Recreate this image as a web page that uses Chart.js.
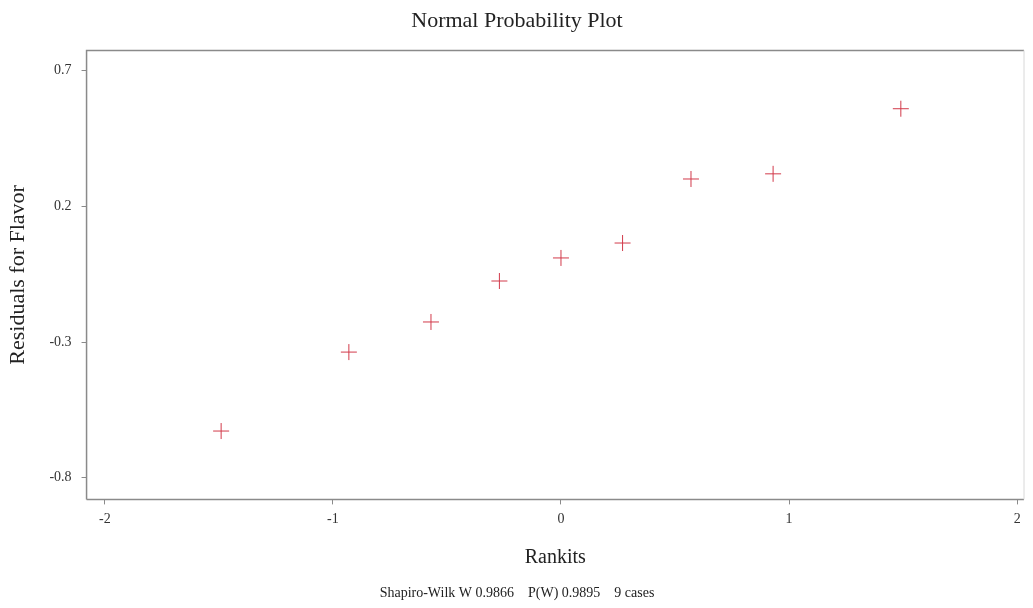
<!DOCTYPE html>
<html><head><meta charset="utf-8">
<script src="https://cdn.jsdelivr.net/npm/chart.js@4/dist/chart.umd.min.js"></script>
<style>html,body{margin:0;padding:0;background:#fff}#wrap{width:1033px;height:608px}</style>
</head><body><div id="wrap"><canvas id="c" width="1033" height="608"></canvas></div>
<script>
const rankits = [-1.49, -0.93, -0.57, -0.27, 0, 0.27, 0.57, 0.93, 1.49];
const residuals = [-0.628, -0.337, -0.226, -0.075, 0.010, 0.065, 0.301, 0.320, 0.560];
const xTicks = [-2, -1, 0, 1, 2];
const yTicks = [-0.8, -0.3, 0.2, 0.7];
const titleText = 'Normal Probability Plot';
const xTitle = 'Rankits';
const yTitle = 'Residuals for Flavor';
const footText = 'Shapiro-Wilk W 0.9866    P(W) 0.9895    9 cases';

const frame = {
  id: 'frame',
  afterDraw(chart) {
    const a = chart.chartArea, ctx = chart.ctx;
    ctx.save();
    ctx.strokeStyle = '#8a8a8a';
    ctx.lineWidth = 1.5;
    ctx.beginPath();
    ctx.moveTo(a.left, a.bottom); ctx.lineTo(a.left, a.top); ctx.lineTo(a.right, a.top);
    ctx.moveTo(a.left, a.bottom); ctx.lineTo(a.right, a.bottom);
    ctx.stroke();
    ctx.strokeStyle = '#d8d8d8';
    ctx.lineWidth = 1;
    ctx.beginPath();
    ctx.moveTo(a.right, a.top); ctx.lineTo(a.right, a.bottom);
    ctx.stroke();
    ctx.restore();
  }
};

const serif = 'Liberation Serif';
new Chart(document.getElementById('c'), {
  type: 'scatter',
  data: { datasets: [{
    data: rankits.map((x, i) => ({ x, y: residuals[i] })),
    pointStyle: 'cross', pointRadius: 8, pointHoverRadius: 8,
    borderColor: '#d23a4a', backgroundColor: '#d23a4a', borderWidth: 1
  }]},
  options: {
    responsive: false, animation: false,
    layout: { padding: { left: 5, right: 4, top: 0, bottom: 4 } },
    plugins: {
      legend: { display: false }, tooltip: { enabled: false },
      title: { display: true, text: titleText, color: '#222', font: { family: serif, size: 22, weight: 'normal' }, padding: { top: 8, bottom: 16 } },
      subtitle: { display: true, position: 'bottom', text: footText, color: '#222', font: { family: serif, size: 14, weight: 'normal' }, padding: { top: 13, bottom: 2 } }
    },
    scales: {
      x: {
        type: 'linear', min: -2.08, max: 2.03,
        afterBuildTicks: s => { s.ticks = xTicks.map(v => ({ value: v })); },
        afterFit: s => { s.paddingRight = 0; },
        grid: { drawOnChartArea: false, tickLength: 5, color: '#8a8a8a' },
        border: { display: false },
        ticks: { color: '#333', font: { family: serif, size: 14 }, padding: 7, callback: v => String(v) },
        title: { display: true, text: xTitle, color: '#222', font: { family: serif, size: 20 }, padding: { top: 11, bottom: 2 } }
      },
      y: {
        type: 'linear', min: -0.88, max: 0.775,
        afterBuildTicks: s => { s.ticks = yTicks.map(v => ({ value: v })); },
        grid: { drawOnChartArea: false, tickLength: 5, color: '#8a8a8a' },
        border: { display: false },
        ticks: { color: '#333', font: { family: serif, size: 14 }, padding: 10, callback: v => String(v) },
        title: { display: true, text: yTitle, color: '#222', font: { family: serif, size: 22 }, padding: { top: 0, bottom: 8 } }
      }
    }
  },
  plugins: [frame]
});
</script></body></html>
